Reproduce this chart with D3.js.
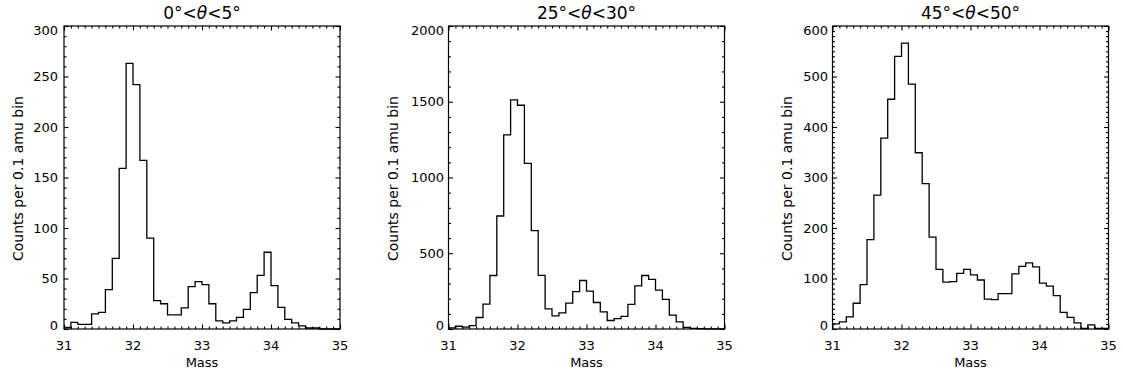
<!DOCTYPE html>
<html>
<head>
<meta charset="utf-8">
<script src="https://cdn.jsdelivr.net/npm/d3@7"></script>
<style>
  html, body { margin: 0; padding: 0; background: #fff; }
  svg { display: block; font-family: "DejaVu Sans", sans-serif; }
</style>
</head>
<body>
<svg id="chart" width="1123" height="375"></svg>
<script>
// ---- data ----
const binEdges = d3.range(40).map(i => 31 + i * 0.1); // left edges of 0.1 amu bins
const xTickLabels = ["31", "32", "33", "34", "35"];
const xTickValues = [31, 32, 33, 34, 35];

const titles = ["0°<θ<5°", "25°<θ<30°", "45°<θ<50°"];
const yMax = [300, 2000, 600];
const yMajorStep = [50, 500, 100];
const yMinorStep = [10, 100, 10];

const counts0to5 = [1.5, 6.5, 4.5, 4.5, 15, 16.5, 39, 70, 159, 263,
                    242, 167, 90, 28, 25, 14, 14, 21, 42, 47,
                    44, 25, 8, 6, 8, 11.5, 19.5, 36, 53, 76,
                    43, 21.5, 9.5, 6, 3, 1, 1, 0, 0, 0];
const counts25to30 = [7, 18, 12, 22, 76, 164, 353, 746, 1281, 1513,
                      1477, 1093, 650, 354, 133, 87, 106, 171, 247, 320,
                      250, 175, 113, 56, 68, 83, 163, 284, 353, 327,
                      256, 195, 91, 47, 11, 4, 2, 1, 1, 1];
const counts45to50 = [10, 14, 24, 51, 88, 177, 265, 378, 455, 540,
                      566, 485, 349, 288, 182, 118, 93, 94, 110, 118,
                      107, 97, 59, 58, 70, 70, 109, 124, 131, 123,
                      91, 85, 66, 33, 23, 12, 1, 8, 1, 1];
const seriesList = [counts0to5, counts25to30, counts45to50];

const xLabel = "Mass";
const yLabel = "Counts per 0.1 amu bin";

// ---- layout ----
const panelLeft = [64, 448.5, 832.5];
const panelW = 276;
const plotTop = 26, plotBottom = 329;
const yTitleOffset = [41, 51, 41];

const svg = d3.select("#chart");

seriesList.forEach((vals, p) => {
  const x0 = panelLeft[p];
  const g = svg.append("g").attr("transform", `translate(${x0},0)`);
  const x = d3.scaleLinear().domain([31, 35]).range([0, panelW]);
  const y = d3.scaleLinear().domain([0, yMax[p]]).range([plotBottom, plotTop]);

  // frame
  g.append("rect").attr("x", 0).attr("y", plotTop).attr("width", panelW).attr("height", plotBottom - plotTop)
    .attr("fill", "none").attr("stroke", "#000").attr("stroke-width", 1.2);

  const xMinor = d3.range(31, 35.0001, 0.1).map(v => +v.toFixed(1)).filter(v => !xTickValues.includes(v));
  const yMajor = d3.range(0, yMax[p] + 1e-6, yMajorStep[p]);
  const yMinor = d3.range(0, yMax[p] + 1e-6, yMinorStep[p]).filter(v => !yMajor.some(m => Math.abs(m - v) < 1e-6));

  const styleAxis = sel => {
    sel.select(".domain").remove();
    sel.selectAll(".tick line").attr("stroke", "#000").attr("stroke-width", 1.1);
  };

  // bottom & top ticks
  g.append("g").attr("transform", `translate(0,${plotBottom})`)
    .call(d3.axisBottom(x).tickValues(xTickValues).tickSize(-4.5).tickFormat(""))
    .call(styleAxis);
  g.append("g").attr("transform", `translate(0,${plotBottom})`)
    .call(d3.axisBottom(x).tickValues(xMinor).tickSize(-2.5).tickFormat(""))
    .call(styleAxis);
  g.append("g").attr("transform", `translate(0,${plotTop})`)
    .call(d3.axisTop(x).tickValues(xTickValues).tickSize(-4.5).tickFormat(""))
    .call(styleAxis);
  g.append("g").attr("transform", `translate(0,${plotTop})`)
    .call(d3.axisTop(x).tickValues(xMinor).tickSize(-2.5).tickFormat(""))
    .call(styleAxis);
  // left & right ticks
  g.append("g").call(d3.axisLeft(y).tickValues(yMajor).tickSize(-4.5).tickFormat("")).call(styleAxis);
  g.append("g").call(d3.axisLeft(y).tickValues(yMinor).tickSize(-2.5).tickFormat("")).call(styleAxis);
  g.append("g").attr("transform", `translate(${panelW},0)`)
    .call(d3.axisRight(y).tickValues(yMajor).tickSize(-4.5).tickFormat("")).call(styleAxis);
  g.append("g").attr("transform", `translate(${panelW},0)`)
    .call(d3.axisRight(y).tickValues(yMinor).tickSize(-2.5).tickFormat("")).call(styleAxis);

  // x tick labels
  g.selectAll(".xl").data(xTickValues).enter().append("text")
    .attr("x", d => x(d)).attr("y", 349.5)
    .attr("text-anchor", "middle").attr("font-size", 13).attr("fill", "#000")
    .text((d, i) => xTickLabels[i]);

  // y tick labels
  g.selectAll(".yl").data(yMajor).enter().append("text")
    .attr("x", p === 0 ? -6 : -4.5)
    .attr("y", d => {
      let c = y(d);
      if (d === yMax[p]) c += 4.5;
      if (d === 0) c -= 3.5;
      return c;
    })
    .attr("dy", "0.36em")
    .attr("text-anchor", "end").attr("font-size", 13).attr("fill", "#000")
    .text(d => d3.format("d")(d));

  // histogram step line
  const pts = vals.map((v, i) => [binEdges[i], v]);
  pts.push([35, vals[vals.length - 1]]);
  const line = d3.line().x(d => x(d[0])).y(d => y(d[1])).curve(d3.curveStepAfter);
  g.append("path").datum(pts).attr("d", line)
    .attr("fill", "none").attr("stroke", "#000").attr("stroke-width", 1.3);

  // title
  const t = g.append("text").attr("x", panelW / 2).attr("y", 18.5)
    .attr("text-anchor", "middle").attr("font-size", 17).attr("fill", "#000");
  const parts = titles[p].split("θ");
  t.append("tspan").text(parts[0]);
  t.append("tspan").attr("font-style", "italic").text("θ");
  t.append("tspan").text(parts[1]);

  // x label
  g.append("text").attr("x", panelW / 2).attr("y", 366.5)
    .attr("text-anchor", "middle").attr("font-size", 13).attr("fill", "#000")
    .text(xLabel);

  // y label
  g.append("text")
    .attr("transform", `translate(${-yTitleOffset[p]},${(plotTop + plotBottom) / 2 + 1}) rotate(-90)`)
    .attr("text-anchor", "middle").attr("font-size", 14).attr("fill", "#000")
    .text(yLabel);
});
</script>
</body>
</html>
